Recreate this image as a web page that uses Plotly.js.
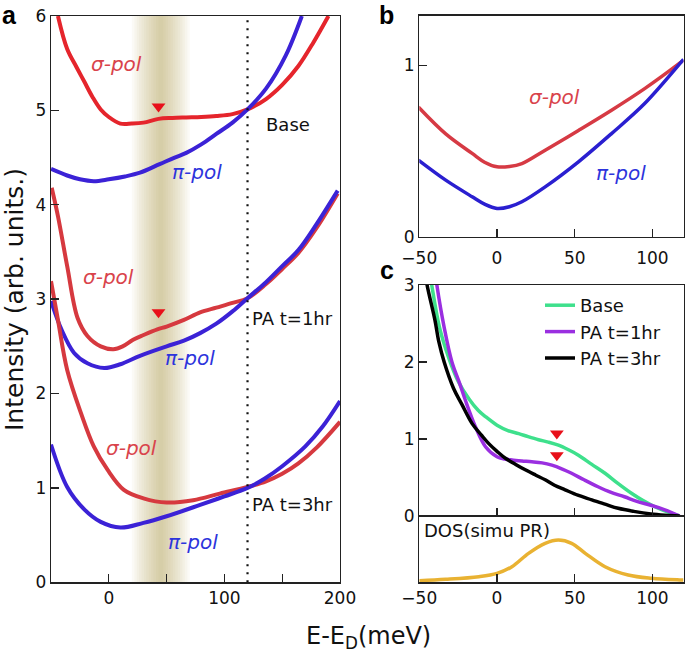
<!DOCTYPE html>
<html>
<head>
<meta charset="utf-8">
<script src="https://cdn.plot.ly/plotly-3.0.1.min.js"></script>
<style>html,body{margin:0;padding:0;background:#fff;}#chart{width:685px;height:656px;}</style>
</head>
<body>
<div id="chart"></div>
<script>
// ---------- Panel a data ----------
const aBaseSigX = [-44, -36, -28, -21, -14, -7, 0, 10, 20, 30, 43, 55, 67, 80, 93, 107, 120, 136, 150, 164, 177, 190];
const aBaseSigY = [6.0, 5.65, 5.46, 5.30, 5.14, 5.01, 4.93, 4.86, 4.86, 4.87, 4.91, 4.92, 4.925, 4.93, 4.94, 4.96, 5.01, 5.12, 5.27, 5.47, 5.72, 6.0];
const aBasePiX = [-50, -36, -25, -13, 0, 14, 27, 44, 57, 67, 80, 93, 107, 120, 136, 153, 167];
const aBasePiY = [4.38, 4.31, 4.27, 4.25, 4.27, 4.30, 4.34, 4.43, 4.50, 4.55, 4.64, 4.75, 4.87, 5.01, 5.23, 5.58, 6.0];
const a1SigX = [-49.4, -44, -36, -27, -18.5, -7, 4, 12, 21, 30, 42, 50, 65, 79, 93, 107, 120, 136, 150, 164, 180, 198];
const a1SigY = [4.18, 3.88, 3.35, 2.80, 2.61, 2.50, 2.47, 2.50, 2.57, 2.62, 2.68, 2.71, 2.78, 2.86, 2.91, 2.96, 3.01, 3.16, 3.32, 3.49, 3.76, 4.12];
const a1PiX = [-50, -41, -30, -18.5, -4, 10, 27, 50, 65, 79, 93, 107, 120, 136, 150, 164, 180, 198];
const a1PiY = [2.98, 2.68, 2.43, 2.32, 2.27, 2.31, 2.40, 2.50, 2.56, 2.64, 2.74, 2.87, 3.01, 3.18, 3.35, 3.52, 3.80, 4.15];
const a3SigX = [-50, -44, -36, -24, -13, -1, 13, 30, 50, 73, 96, 120, 136, 150, 164, 180, 200];
const a3SigY = [3.19, 2.78, 2.25, 1.79, 1.44, 1.19, 0.98, 0.89, 0.845, 0.87, 0.94, 1.01, 1.07, 1.15, 1.26, 1.43, 1.70];
const a3PiX = [-50, -36, -21, -7, 10, 30, 50, 79, 100, 120, 135, 150, 170, 185, 200];
const a3PiY = [1.46, 1.01, 0.77, 0.64, 0.58, 0.63, 0.70, 0.82, 0.91, 1.0, 1.10, 1.23, 1.44, 1.65, 1.92];
const aArrowX = [43, 43];
const aArrowY = [5.04, 2.86];
const aRefLineE = [120];
const aBandCenter = [45];
const aBandHalfWidth = [25];
const aYTicks = [0, 1, 2, 3, 4, 5, 6];
const aXTicks = [0, 100, 200];
const aXTickText = ['0', '100', '200'];
const aXMinorStep = 50;

// ---------- Panel b data ----------
const bX = [-50.6, -33, -16, -8, 0, 8, 16, 31, 52.4, 73.7, 95, 118.6, 120];
const bSigY = [0.757, 0.60, 0.486, 0.435, 0.408, 0.41, 0.427, 0.505, 0.62, 0.738, 0.864, 1.02, 1.03];
const bPiY = [0.447, 0.33, 0.233, 0.19, 0.165, 0.175, 0.204, 0.291, 0.437, 0.602, 0.777, 1.02, 1.035];
const bXTicks = [-50, 0, 50, 100];
const bYTicks = [0, 1];

// ---------- Panel c data ----------
const cBaseX = [-43.5, -42, -37, -31, -25, -18, -12, -7.4, 0, 7, 14, 20, 26.7, 33, 39.5, 46, 52.4, 61, 69.5, 78, 86.5, 94, 101.5, 110, 117.5];
const cBaseY = [3.2, 3.0, 2.45, 2.05, 1.75, 1.52, 1.37, 1.29, 1.18, 1.11, 1.07, 1.03, 0.99, 0.96, 0.92, 0.86, 0.79, 0.67, 0.555, 0.42, 0.295, 0.20, 0.12, 0.05, 0.0];
const c1X = [-40, -38.7, -34, -29, -24, -20.3, -13.9, -7.4, 0, 5, 9.6, 16, 22.4, 29, 35.3, 42, 48, 56, 65, 73, 82, 90, 99, 108, 117.5];
const c1Y = [3.2, 3.0, 2.45, 2.0, 1.72, 1.5, 1.16, 0.90, 0.77, 0.74, 0.727, 0.715, 0.705, 0.69, 0.66, 0.61, 0.555, 0.47, 0.38, 0.31, 0.25, 0.19, 0.14, 0.08, 0.0];
const c3X = [-46.5, -45, -40, -37.4, -34, -28, -22.6, -16, -10, -5.3, 0, 5.4, 12, 18.2, 25, 31, 37, 43.8, 52, 61, 70, 78, 88, 99, 108, 117.5];
const c3Y = [3.2, 3.0, 2.55, 2.26, 2.0, 1.66, 1.45, 1.20, 1.05, 0.94, 0.84, 0.75, 0.67, 0.60, 0.53, 0.47, 0.40, 0.34, 0.27, 0.21, 0.15, 0.10, 0.06, 0.026, 0.01, 0.0];
const cArrowX = [38.5, 38.5];
const cArrowY = [1.07, 0.79];
const cXTicks = [0, 50, 100];
const cYTicks = [0, 1, 2, 3];
const dosX = [-50, -33, -11.7, 0, 9.6, 20.3, 31, 39.5, 48, 56.8, 69.5, 84.4, 99.3, 117.5, 120];
const dosY = [0.025, 0.045, 0.085, 0.135, 0.235, 0.437, 0.588, 0.638, 0.588, 0.437, 0.235, 0.11, 0.06, 0.035, 0.033];
const dosXTicks = [-50, 0, 50, 100];

// ---------- colours ----------
const RED = '#e5252c';
const RED2 = '#d6393f';
const BLUE = '#3b22d6';
const TXT_RED = '#d9434b';
const TXT_BLUE = '#2d34dc';
const FONT = 'DejaVu Sans, Liberation Sans, Arial, sans-serif';
const BOLD = 'Liberation Sans, Arial, sans-serif';

function line(x, y, color, ax, extra) {
  return Object.assign({
    x: x, y: y, type: 'scatter', mode: 'lines',
    line: {color: color, width: 4, shape: 'spline', smoothing: 1},
    xaxis: ax[0], yaxis: ax[1], showlegend: false, hoverinfo: 'skip'
  }, extra || {});
}
const thin = c => ({color: c, width: 3.5, shape: 'spline', smoothing: 1});

const A = ['x', 'y'], B = ['x2', 'y2'], C = ['x3', 'y3'], D = ['x4', 'y4'];
const traces = [
  line(aBaseSigX, aBaseSigY, RED, A),
  line(aBasePiX, aBasePiY, BLUE, A),
  line(a1SigX, a1SigY, RED2, A),
  line(a1PiX, a1PiY, BLUE, A),
  line(a3SigX, a3SigY, RED2, A),
  line(a3PiX, a3PiY, BLUE, A),
  {x: aArrowX, y: aArrowY, type: 'scatter', mode: 'markers', xaxis: 'x', yaxis: 'y',
   marker: {symbol: 'triangle-down', size: 12, color: '#e8101a'}, showlegend: false, hoverinfo: 'skip'},
  line(bX, bSigY, '#d63a44', B, {line: thin('#d63a44')}),
  line(bX, bPiY, '#2a1fd0', B, {line: thin('#2a1fd0')}),
  line(cBaseX, cBaseY, '#3ee08c', C, {name: 'Base', showlegend: true, line: thin('#3ee08c')}),
  line(c1X, c1Y, '#9a2fe0', C, {name: 'PA t=1hr', showlegend: true, line: thin('#9a2fe0')}),
  line(c3X, c3Y, '#000000', C, {name: 'PA t=3hr', showlegend: true, line: thin('#000000')}),
  {x: cArrowX, y: cArrowY, type: 'scatter', mode: 'markers', xaxis: 'x3', yaxis: 'y3',
   marker: {symbol: 'triangle-down', size: 12, color: '#e8101a'}, showlegend: false, hoverinfo: 'skip'},
  line(dosX, dosY, '#e9b232', D, {line: thin('#e9b232')})
];

const W = 685, H = 656;
const px = v => v / W;
const py = v => 1 - v / H;

const axBase = {
  showline: true, mirror: true, linecolor: '#222', linewidth: 1.3,
  ticks: 'inside', ticklen: 8, tickwidth: 1.3, tickcolor: '#222',
  showgrid: false, zeroline: false, fixedrange: true,
  tickfont: {family: FONT, size: 17, color: '#111'}
};
function ax(o) { return Object.assign({}, axBase, o); }

// gradient band built from nested translucent rectangles
const shapes = [];
const nBand = 12;
for (let i = 0; i < nBand; i++) {
  const hw = aBandHalfWidth[0] * (1 - i / nBand);
  shapes.push({type: 'rect', xref: 'x', yref: 'y', x0: aBandCenter[0] - hw, x1: aBandCenter[0] + hw,
    y0: 0, y1: 6, fillcolor: 'rgba(175,155,80,0.05)', line: {width: 0}, layer: 'below'});
}
shapes.push({type: 'line', xref: 'x', yref: 'y', x0: aRefLineE[0], x1: aRefLineE[0], y0: 0, y1: 6,
  line: {color: '#111', width: 2.2, dash: '2px,6px'}});

const tf = (size, color) => ({family: FONT, size: size, color: color});
const sig = (x, y, ref) => ({text: '<i>σ-pol</i>', x: x, y: y, xref: ref[0], yref: ref[1], showarrow: false, font: tf(20, TXT_RED)});
const pi = (x, y, ref) => ({text: '<i>π-pol</i>', x: x, y: y, xref: ref[0], yref: ref[1], showarrow: false, font: tf(20, TXT_BLUE)});
const paperText = (text, x, y, font, extra) => Object.assign({text: text, x: px(x), y: py(y), xref: 'paper', yref: 'paper',
  xanchor: 'center', yanchor: 'middle', showarrow: false, font: font}, extra || {});
const letterFont = {family: BOLD, size: 25, color: '#000', weight: 'bold'};

const annotations = [
  sig(7, 5.49, A), pi(76, 4.35, A),
  sig(0, 3.24, A), pi(70, 2.38, A),
  sig(20, 1.42, A), pi(73, 0.43, A),
  {text: 'Base', x: 134, y: 4.85, xref: 'x', yref: 'y', xanchor: 'left', showarrow: false, font: tf(18, '#111')},
  {text: 'PA t=1hr', x: 122, y: 2.80, xref: 'x', yref: 'y', xanchor: 'left', showarrow: false, font: tf(18, '#111')},
  {text: 'PA t=3hr', x: 122, y: 0.82, xref: 'x', yref: 'y', xanchor: 'left', showarrow: false, font: tf(18, '#111')},
  sig(37, 0.815, B), pi(80, 0.37, B),
  paperText('DOS(simu PR)', 422, 530, tf(18, '#111'), {xanchor: 'left'}),
  paperText('a', 1, 0, letterFont, {xanchor: 'left', yanchor: 'top', borderpad: 0}),
  paperText('b', 378, 0, letterFont, {xanchor: 'left', yanchor: 'top', borderpad: 0}),
  paperText('c', 379, 255, letterFont, {xanchor: 'left', yanchor: 'top', borderpad: 0}),
  paperText('E-E<sub>D</sub>(meV)', 368, 637, tf(24, '#111')),
  paperText('Intensity (arb. units.)', 14, 300, tf(25, '#111'), {textangle: -90})
];

const layout = {
  width: W, height: H,
  margin: {l: 0, r: 0, t: 0, b: 0, pad: 0},
  paper_bgcolor: '#fff', plot_bgcolor: 'rgba(0,0,0,0)',
  showlegend: true,
  legend: {x: px(540), y: py(287), xanchor: 'left', yanchor: 'top', bgcolor: 'rgba(0,0,0,0)',
    font: tf(18, '#111'), tracegroupgap: 0, itemwidth: 30},
  xaxis: ax({domain: [px(51), px(340)], range: [-50, 200], tickvals: aXTicks, ticktext: aXTickText, anchor: 'y',
    minor: {dtick: aXMinorStep, tick0: 0, ticks: 'inside', ticklen: 8, tickwidth: 1.3, tickcolor: '#222', showgrid: false}}),
  yaxis: ax({domain: [py(582.3), py(16)], range: [0, 6], tickvals: aYTicks, anchor: 'x'}),
  xaxis2: ax({domain: [px(419.3), px(683.5)], range: [-50, 120], tickvals: bXTicks, anchor: 'y2', ticklabelstandoff: 6}),
  yaxis2: ax({domain: [py(236.7), py(15.7)], range: [0, 1.29], tickvals: bYTicks, anchor: 'x2'}),
  xaxis3: ax({domain: [px(419.3), px(683.5)], range: [-50, 120], tickvals: cXTicks, showticklabels: false, anchor: 'y3'}),
  yaxis3: ax({domain: [py(516), py(285)], range: [0, 3], tickvals: cYTicks, anchor: 'x3'}),
  xaxis4: ax({domain: [px(419.3), px(683.5)], range: [-50, 120], tickvals: dosXTicks, anchor: 'y4'}),
  yaxis4: ax({domain: [py(582.3), py(516)], range: [0, 1], ticks: '', showticklabels: false, anchor: 'x4'}),
  shapes: shapes,
  annotations: annotations
};

Plotly.newPlot('chart', traces, layout, {staticPlot: true, displayModeBar: false});
</script>
</body>
</html>
